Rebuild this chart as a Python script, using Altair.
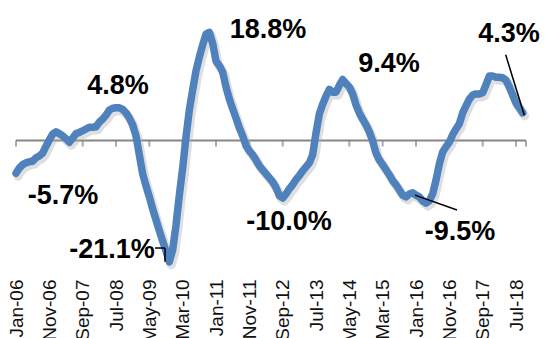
import altair as alt
import pandas as pd

# Tick labels, every 10 months starting Jan-06
month_labels = ["Jan-06", "Nov-06", "Sep-07", "Jul-08", "May-09", "Mar-10", "Jan-11", "Nov-11",
                "Sep-12", "Jul-13", "May-14", "Mar-15", "Jan-16", "Nov-16", "Sep-17", "Jul-18"]

# Monthly values (%), Jan-06 .. Sep-18
values = [
    -5.7, -4.8, -4.2, -3.9, -3.7, -3.6, -3.0, -2.7, -2.2, -1.0,
    0.1, 1.1, 1.5, 1.2, 0.8, 0.3, -0.3, 0.4, 1.2, 1.4,
    1.7, 2.0, 2.3, 2.3, 2.4, 3.2, 3.7, 4.4, 5.3, 5.6,
    5.7, 5.7, 5.4, 4.8, 3.9, 2.7, 0.8, -2.5, -5.8, -7.9,
    -9.8, -11.9, -13.8, -15.7, -17.5, -19.2, -21.1, -19.0, -14.7, -9.5,
    -4.8, 0.6, 5.3, 8.8, 12.1, 14.5, 16.6, 18.5, 18.8, 16.9,
    13.8, 13.0, 11.9, 9.3, 7.2, 5.5, 3.9, 2.2, 0.8, -0.9,
    -1.8, -2.5, -3.4, -4.4, -5.1, -5.8, -6.5, -7.2, -8.2, -9.6,
    -10.0, -9.3, -8.4, -7.7, -6.8, -6.1, -5.3, -4.6, -3.9, -2.5,
    1.3, 4.6, 6.3, 7.7, 8.9, 8.4, 8.4, 9.6, 10.6, 9.9,
    9.3, 8.1, 6.2, 4.8, 3.7, 2.7, 1.5, -0.1, -2.2, -3.4,
    -4.2, -5.1, -6.0, -7.0, -7.7, -8.6, -9.5, -9.8, -9.3, -9.1,
    -9.5, -9.8, -10.5, -10.9, -10.5, -9.3, -6.9, -4.1, -2.0, -1.1,
    -0.3, 1.0, 2.0, 2.9, 4.8, 6.0, 7.2, 7.9, 8.1, 8.1,
    8.3, 9.7, 11.2, 11.2, 11.0, 11.0, 10.9, 10.5, 9.3, 7.9,
    6.5, 5.7, 4.8,
]

# Annotation labels (text, month index, value at text baseline)
ann_text = ["4.8%", "18.8%", "9.4%", "4.3%", "-5.7%", "-21.1%", "-10.0%", "-9.5%"]
ann_month = [30.6, 75.6, 111.9, 147.9, 14.1, 28.8, 81.9, 133.2]
ann_value = [8.1, 17.8, 11.9, 17.1, -11.0, -20.4, -15.6, -17.3]

# Leader lines (month, value) -> (month2, value2)
lead_m1 = [41.7, 44.7, 119.7, 146.9]
lead_v1 = [-18.7, -18.7, -9.5, 14.9]
lead_m2 = [44.7, 44.7, 132.3, 152.5]
lead_v2 = [-18.7, -21.1, -12.1, 4.4]

tick_months = list(range(0, 151, 10)) + [153]

series = pd.DataFrame({"m": list(range(len(values))), "v": values})
ann = pd.DataFrame({"t": ann_text, "m": ann_month, "v": ann_value})
leads = pd.DataFrame({"m": lead_m1, "v": lead_v1, "m2": lead_m2, "v2": lead_v2})
ticks = pd.DataFrame({"m": tick_months, "v": [0] * len(tick_months)})
axis_line = pd.DataFrame({"m": [0], "m2": [153], "v": [0]})

label_array = "[" + ",".join("'" + s + "'" for s in month_labels) + "]"

xscale = alt.Scale(domain=[0, 153], nice=False, zero=False)
yscale = alt.Scale(domain=[-22.87, 24.43], nice=False, zero=False)

x_enc = alt.X(
    "m:Q", scale=xscale,
    axis=alt.Axis(values=list(range(0, 151, 10)),
                  labelExpr=label_array + "[round(datum.value/10)]",
                  labelAngle=270, domain=False, ticks=False, grid=False,
                  labelFont="Liberation Sans", labelFontSize=19, labelColor="#111111",
                  labelPadding=7, labelFlush=False, labelOverlap=False, title=None),
)
y_enc = alt.Y("v:Q", scale=yscale, axis=None)

zero_line = alt.Chart(axis_line).mark_rule(color="#868686", strokeWidth=2).encode(
    x=x_enc, x2="m2:Q", y=y_enc
)
tick_marks = alt.Chart(ticks).mark_tick(color="#868686", orient="vertical", size=6,
                                        thickness=2, yOffset=3).encode(x=x_enc, y=y_enc)

shadow = alt.Chart(series).mark_line(color="#b0b0b0", strokeWidth=9, opacity=0.4,
                                     xOffset=2, yOffset=3, strokeJoin="round",
                                     strokeCap="round").encode(x=x_enc, y=y_enc)
line = alt.Chart(series).mark_line(color="#4F81BD", strokeWidth=7.5, strokeJoin="round",
                                   strokeCap="round").encode(x=x_enc, y=y_enc)

leaders = alt.Chart(leads).mark_rule(color="#000000", strokeWidth=1.5).encode(
    x=x_enc, y=y_enc, x2="m2:Q", y2="v2:Q"
)

labels = alt.Chart(ann).mark_text(font="Liberation Sans", fontSize=27, fontWeight="bold",
                                  align="center", baseline="alphabetic", color="#000000").encode(
    x=x_enc, y=y_enc, text="t:N"
)

chart = alt.layer(zero_line, tick_marks, shadow, line, leaders, labels).properties(
    width=510, height=272,
    autosize=alt.AutoSizeParams(type="none"),
    padding={"left": 16, "top": 0, "right": 19, "bottom": 66},
).configure_view(stroke=None)

chart.save("out.html", embed_options={"renderer": "svg", "actions": False})
